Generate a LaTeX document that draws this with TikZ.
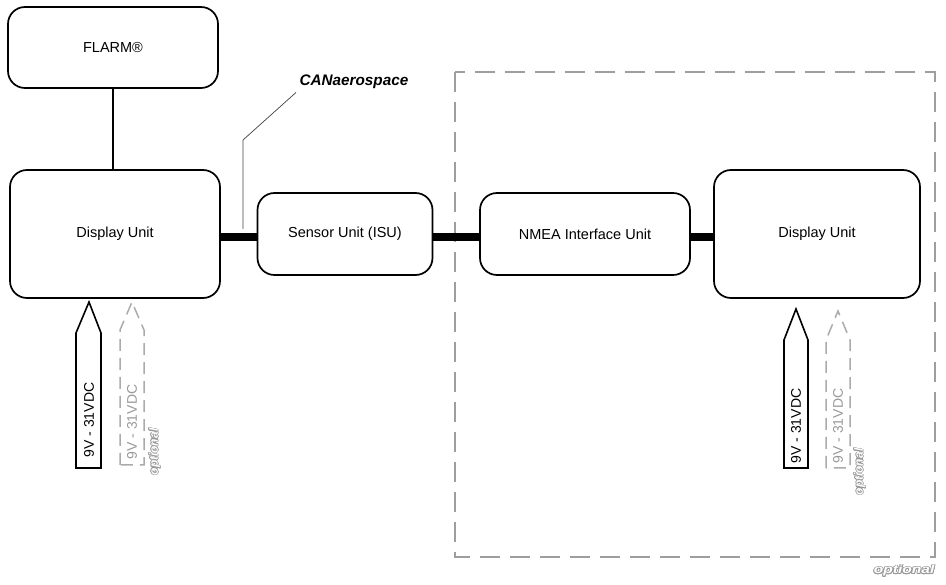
\documentclass[tikz,border=0pt]{standalone}
\usepackage{fontspec}
\setmainfont{Liberation Sans}
\usepackage{contour}
\contourlength{0.6pt}
\begin{document}
\begin{tikzpicture}[x=1pt,y=-1pt,
  unit/.style={draw=black,line width=1.7pt,rounded corners=17pt,fill=white,font=\fontsize{14.5}{17}\selectfont},
  bus/.style={line width=8pt},
  optbox/.style={draw=black!38,line width=2pt,dash pattern=on 20pt off 10pt},
  pwr/.style={draw=black,line width=1.6pt,line join=miter},
  pwropt/.style={draw=black!33,line width=1.5pt,dash pattern=on 12pt off 7pt},
  pwrtext/.style={rotate=90,font=\fontsize{14}{16}\selectfont},
  opttext/.style={font=\bfseries\itshape\fontsize{12}{14}\selectfont}]
\useasboundingbox (0,0) rectangle (946,585);
% optional frame
\draw[optbox] (455,72) rectangle (935,557);
\node[opttext,anchor=east] (optlbl) at (938,571) {\scalebox{1.3}[1]{\contour{black!40}{\textcolor{white}{optional}}}};
% units
\node[unit,minimum width=210pt,minimum height=81pt] (flarm) at (113,47.5) {FLARM®};
\node[unit,minimum width=210pt,minimum height=128pt] (du1) at (115,234) {Display Unit};
\node[unit,minimum width=175pt,minimum height=82pt] (isu) at (345,234) {Sensor Unit (ISU)};
\node[unit,minimum width=210pt,minimum height=82pt] (nmea) at (585,234) {NMEA Interface Unit};
\node[unit,minimum width=206pt,minimum height=128pt] (du2) at (817,234) {Display Unit};
% connectors
\draw[line width=2pt] (flarm.south) -- (du1.north -| flarm.south);
\draw[bus] (du1.east |- 0,237) -- (isu.west |- 0,237);
\draw[bus] (isu.east |- 0,237) -- (nmea.west |- 0,237);
\draw[bus] (nmea.east |- 0,237) -- (du2.west |- 0,237);
% CANaerospace label
\node[font=\bfseries\itshape\fontsize{15.3}{18}\selectfont,anchor=west] (can) at (296,82) {CANaerospace};
\coordinate (canfoot) at (243,229);
\draw[line width=0.7pt,black!75] (canfoot) -- (243,140) -- (can.south west);
% power arrows left
\draw[pwr,fill=white] (76,468) -- (76,333) -- (89,302) -- (101,333) -- (101,468) -- cycle;
\node[pwrtext] (p1) at (89,420) {9V - 31VDC};
\draw[pwropt] (120,465) -- (120,330) -- (132,302) -- (144,330) -- (144,465) -- cycle;
\node[pwrtext,text=black!40] (p1o) at (132,422) {9V - 31VDC};
\node[opttext,rotate=90] (o1) at (155,452) {\contour{black!40}{\textcolor{white}{optional}}};
% power arrows right
\draw[pwr,fill=white] (784,468) -- (784,340) -- (796,309) -- (808,340) -- (808,468) -- cycle;
\node[pwrtext] (p2) at (796,426) {9V - 31VDC};
\draw[pwropt] (826,468) -- (826,340) -- (838,311) -- (850,340) -- (850,468) -- cycle;
\node[pwrtext,text=black!40] (p2o) at (838,426) {9V - 31VDC};
\node[opttext,rotate=90] (o2) at (860,472) {\contour{black!40}{\textcolor{white}{optional}}};
\end{tikzpicture}
\end{document}
